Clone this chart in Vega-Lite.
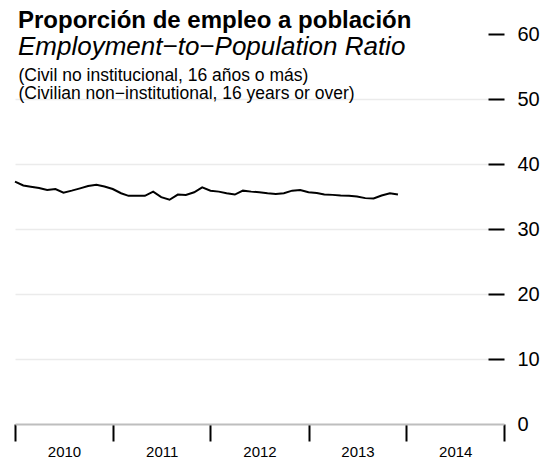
{
  "$schema": "https://vega.github.io/schema/vega-lite/v6.json",
  "width": 489,
  "height": 390,
  "autosize": {"type": "none"},
  "padding": {"left": 15, "top": 34, "right": 45, "bottom": 39},
  "background": "white",
  "config": {"font": "Liberation Sans", "view": {"stroke": null}},
  "title": {
    "text": "Proporción de empleo a población",
    "subtitle": "Employment−to−Population Ratio",
    "anchor": "start",
    "frame": "group",
    "fontSize": 24,
    "fontWeight": "bold",
    "color": "black",
    "subtitleFontSize": 26,
    "subtitleFontStyle": "italic",
    "subtitleColor": "black",
    "subtitlePadding": 1,
    "offset": -36,
    "dx": 3
  },
  "data": {
    "values": [
      {"date": "2010-01-01", "ratio": 37.3},
      {"date": "2010-02-01", "ratio": 36.7},
      {"date": "2010-03-01", "ratio": 36.5},
      {"date": "2010-04-01", "ratio": 36.3},
      {"date": "2010-05-01", "ratio": 36.0},
      {"date": "2010-06-01", "ratio": 36.15},
      {"date": "2010-07-01", "ratio": 35.6},
      {"date": "2010-08-01", "ratio": 35.9},
      {"date": "2010-09-01", "ratio": 36.25},
      {"date": "2010-10-01", "ratio": 36.6},
      {"date": "2010-11-01", "ratio": 36.8},
      {"date": "2010-12-01", "ratio": 36.55},
      {"date": "2011-01-01", "ratio": 36.15},
      {"date": "2011-02-01", "ratio": 35.5},
      {"date": "2011-03-01", "ratio": 35.1},
      {"date": "2011-04-01", "ratio": 35.1},
      {"date": "2011-05-01", "ratio": 35.1},
      {"date": "2011-06-01", "ratio": 35.75},
      {"date": "2011-07-01", "ratio": 34.9},
      {"date": "2011-08-01", "ratio": 34.5},
      {"date": "2011-09-01", "ratio": 35.3},
      {"date": "2011-10-01", "ratio": 35.25},
      {"date": "2011-11-01", "ratio": 35.65},
      {"date": "2011-12-01", "ratio": 36.4},
      {"date": "2012-01-01", "ratio": 35.9},
      {"date": "2012-02-01", "ratio": 35.75},
      {"date": "2012-03-01", "ratio": 35.5},
      {"date": "2012-04-01", "ratio": 35.3},
      {"date": "2012-05-01", "ratio": 35.9},
      {"date": "2012-06-01", "ratio": 35.75},
      {"date": "2012-07-01", "ratio": 35.65},
      {"date": "2012-08-01", "ratio": 35.5},
      {"date": "2012-09-01", "ratio": 35.4},
      {"date": "2012-10-01", "ratio": 35.5},
      {"date": "2012-11-01", "ratio": 35.9},
      {"date": "2012-12-01", "ratio": 36.0},
      {"date": "2013-01-01", "ratio": 35.65},
      {"date": "2013-02-01", "ratio": 35.55},
      {"date": "2013-03-01", "ratio": 35.3},
      {"date": "2013-04-01", "ratio": 35.25},
      {"date": "2013-05-01", "ratio": 35.15},
      {"date": "2013-06-01", "ratio": 35.1},
      {"date": "2013-07-01", "ratio": 35.0},
      {"date": "2013-08-01", "ratio": 34.75},
      {"date": "2013-09-01", "ratio": 34.7},
      {"date": "2013-10-01", "ratio": 35.15},
      {"date": "2013-11-01", "ratio": 35.5},
      {"date": "2013-12-01", "ratio": 35.3}
    ]
  },
  "mark": {"type": "line", "color": "black", "strokeWidth": 2},
  "encoding": {
    "x": {
      "field": "date",
      "type": "temporal",
      "scale": {"domain": [{"year": 2010, "month": 1, "date": 1}, {"year": 2015, "month": 1, "date": 1}]},
      "axis": {
        "title": null,
        "values": [
          {"year": 2010, "month": 1, "date": 1},
          {"year": 2011, "month": 1, "date": 1},
          {"year": 2012, "month": 1, "date": 1},
          {"year": 2013, "month": 1, "date": 1},
          {"year": 2014, "month": 1, "date": 1},
          {"year": 2015, "month": 1, "date": 1}
        ],
        "labelExpr": "year(datum.value) == 2015 ? '' : timeFormat(datum.value, '%Y')",
        "labelOffset": 49,
        "labelFontSize": 15,
        "labelFontWeight": "normal",
        "labelColor": "black",
        "labelPadding": 3,
        "labelFlush": false,
        "labelOverlap": false,
        "tickSize": 17,
        "tickWidth": 2,
        "tickColor": "black",
        "domainColor": "#bebebe",
        "domainWidth": 2,
        "grid": false
      }
    },
    "y": {
      "field": "ratio",
      "type": "quantitative",
      "scale": {"domain": [0, 60], "nice": false},
      "axis": {
        "orient": "right",
        "values": [0, 10, 20, 30, 40, 50, 60],
        "domain": false,
        "tickSize": -16,
        "tickWidth": 2,
        "tickColor": "black",
        "tickOpacity": {"expr": "datum.value == 0 ? 0 : 1"},
        "grid": true,
        "gridColor": "#ebebeb",
        "gridWidth": 1.5,
        "gridOpacity": {"expr": "datum.value == 0 || datum.value == 60 ? 0 : 1"},
        "labelFontSize": 20,
        "labelFontWeight": "normal",
        "labelColor": "black",
        "labelPadding": 29,
        "labelFlush": false,
        "labelOverlap": false,
        "title": ["(Civil no institucional, 16 años o más)", "(Civilian non−institutional, 16 years or over)"],
        "titleAngle": 0,
        "titleAlign": "left",
        "titleBaseline": "alphabetic",
        "titleFontSize": 17.5,
        "titleFontWeight": "normal",
        "titleColor": "black",
        "titleLineHeight": 18,
        "titleX": -486,
        "titleY": 46
      }
    }
  }
}
